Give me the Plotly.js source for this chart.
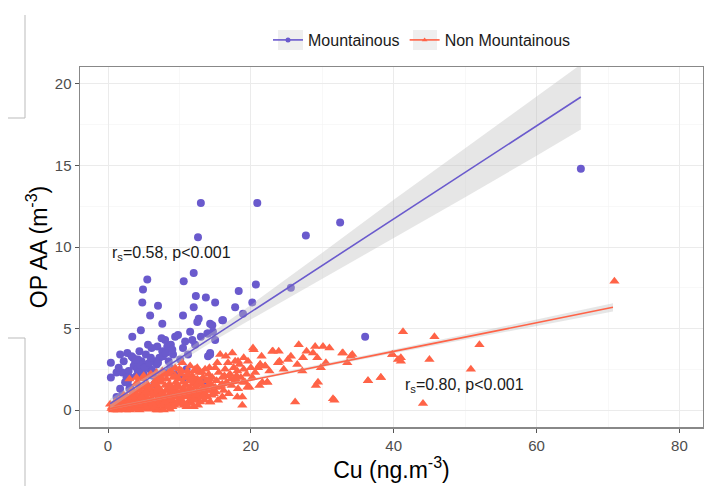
<!DOCTYPE html>
<html>
<head>
<meta charset="utf-8">
<script src="https://cdn.plot.ly/plotly-2.35.2.min.js"></script>
<style>html,body{margin:0;padding:0;background:#fff;}#chart{width:704px;height:486px;}</style>
</head>
<body>
<div id="chart"></div>
<script>
// ---- Data ----
const seriesNames = ["Mountainous", "Non Mountainous"];

const mountCu = [13.0,20.9,12.6,5.5,4.9,10.6,12.0,20.7,18.3,4.8,7.0,12.3,13.7,12.0,15.0,17.8,20.2,10.5,5.9,12.7,
  27.7,32.5,18.9,25.6,16.1,14.3,12.5,66.2,36.0,7.6,4.6,3.4,5.6,6.9,8.0,9.4,10.8,11.8,14.0,14.6,16.0,11.5,
  2.7,0.4,0.4,2.0,2.8,3.5,4.2,5.2,5.9,6.6,7.6,8.3,9.1,10.1,10.5,8.7,1.7,2.4,3.1,4.8,4.2,10.6,14.3,14.0,12.9,4.9,
  13.9,14.7,14.3,15.0,13.6,1.7,1.2,3.1,
  1.5,2.2,2.9,3.3,3.8,4.4,4.7,5.0,5.3,5.7,6.1,6.3,6.8,7.2,7.9,8.5,9.3,6.5,5.5,3.0,2.0,1.2,4.0,7.5,8.8,9.8,11.2,12.2,13.0,11.0,
  3.6,4.1,4.5,5.1,5.8,6.2,6.0,7.0,7.7,4.3,3.9,2.6,8.1,9.0];
const mountOP = [12.7,12.7,10.6,8.0,7.4,7.9,8.4,7.7,7.3,6.6,6.4,7.0,6.9,6.3,6.6,6.3,6.6,5.8,5.8,5.6,
  10.7,11.5,5.9,7.5,5.5,5.3,5.4,14.8,4.5,5.3,4.9,4.5,4.0,3.9,4.3,4.5,4.2,4.3,4.7,5.2,5.5,4.8,
  3.5,2.9,2.0,2.3,1.8,3.2,3.1,2.8,2.5,3.0,3.6,3.9,3.4,3.1,3.8,2.6,1.3,1.7,2.0,2.1,2.6,2.0,3.5,3.3,1.8,0.7,
  4.7,4.8,3.4,4.3,1.8,3.4,2.3,1.4,
  2.6,3.0,2.4,3.3,2.9,3.6,3.0,2.2,3.4,2.6,3.8,2.1,2.8,3.2,2.3,3.0,2.2,1.6,1.2,1.3,0.9,0.8,2.1,4.4,4.0,4.6,3.4,4.0,4.5,2.5,
  2.7,2.5,2.8,2.6,2.9,2.4,3.2,2.9,3.3,2.3,3.1,2.0,3.5,3.7];

const nonCu = [0.3,0.5,0.6,0.8,0.9,1.0,1.1,1.2,1.3,1.5,1.6,1.7,1.8,1.9,2.0,2.1,2.2,2.3,2.5,2.5,2.6,2.7,2.8,2.9,3.0,
  3.1,3.2,3.3,3.4,3.5,3.6,3.7,3.8,3.9,4.0,4.1,4.2,4.3,4.4,4.5,4.6,4.7,4.8,4.9,5.0,5.1,5.2,5.3,5.4,5.5,5.6,5.7,5.8,5.9,6.0,
  6.1,6.2,6.3,6.4,6.5,6.6,6.7,6.8,6.9,7.0,7.0,7.1,7.2,7.3,7.4,7.5,7.6,7.7,7.8,7.9,8.0,8.1,8.2,8.3,8.4,8.5,8.6,8.7,8.8,8.9,9.0,9.1,9.2,9.3,9.4,9.5,9.6,9.7,9.8,9.9,
  10.0,10.1,10.2,10.4,10.4,10.5,10.6,10.7,10.8,10.9,11.0,11.1,11.2,11.3,11.4,11.5,11.6,11.7,11.8,11.9,12.0,12.1,12.2,12.3,12.4,12.5,12.6,12.8,12.9,13.0,13.1,13.3,13.4,13.6,13.7,13.8,14.0,14.1,14.3,14.4,14.6,14.8,15.0,15.0,
  15.2,15.4,15.5,15.7,15.8,16.0,16.0,16.2,16.4,16.6,16.8,16.9,17.1,17.3,17.4,17.6,17.8,17.9,18.1,18.2,18.4,18.6,18.8,19.0,19.2,19.4,19.6,19.8,20.0,20.2,20.4,20.6,21.0,21.3,21.6,22.0,22.3,22.6,23.0,
  20.3,26.7,29.0,30.1,23.1,23.9,28.7,32.8,34.2,27.3,29.3,25.2,23.8,30.5,18.2,21.3,22.0,27.2,39.8,40.6,29.4,29.1,36.4,38.2,22.3,21.2,26.2,31.5,18.8,18.1,16.0,14.3,19.5,18.9,
  41.3,45.7,52.0,32.9,34.0,39.8,41.0,41.0,45.0,50.8,36.4,38.2,31.7,44.1,70.9,
  0.7,1.4,2.4,3.6,4.5,5.6,6.4,7.3,8.1,9.0,10.3,11.6,12.7,13.9,3.0,4.0,5.0,6.0,7.0,8.0,9.0,10.0,11.0,12.0,
  0.7,1.0,1.4,1.8,2.2,2.6,3.0,3.3,3.6,3.9,4.2,4.5,4.8,5.1,5.4,5.7,6.0,6.3,6.6,6.9,7.2,7.5,7.8,8.1,8.4,8.7,9.0,9.3,9.6,9.9,
  10.2,10.5,10.8,11.1,11.4,11.7,12.0,12.3,12.6,13.0,13.5,14.0,14.5,2.0,2.4,2.9,3.4,3.8,4.3,4.7,5.2,5.6,6.1,6.5,7.0,7.4,8.0,8.5,9.0,9.5,10.0,11.0,12.0,13.2,
  6.0,7.6,8.4,5.0,6.8,10.0,11.2,12.5,13.2,14.2,15.3,16.5,19.0,21.5,24.0,25.6,26.5,27.8,31.0,33.5,24.6,29.8,
  1.5,2.7,3.5,4.4,5.3,6.2,7.1,7.9,8.8,9.7,10.6,11.5,12.4,13.3,14.2,15.1,16.0,16.9,17.8,14.7,15.6,16.3,17.2,18.0,13.6,12.9,11.8,10.9,
  4.0,4.9,5.8,6.7,7.6,8.5,9.4,10.3,11.2,12.1];
const nonOP = [0.35,0.1,0.2,0.05,0.3,0.15,0.4,0.0,0.25,0.1,0.35,0.5,0.2,0.05,0.3,0.6,0.15,0.4,0.0,0.25,0.5,0.8,0.1,0.35,0.6,
  0.2,0.9,0.45,0.05,0.7,0.3,1.1,0.5,0.15,0.8,1.7,0.4,1.3,0.0,0.6,1.0,0.25,0.9,1.4,0.5,0.1,0.75,1.2,0.35,1.6,0.6,0.05,1.0,0.4,1.3,
  0.7,0.2,1.5,0.9,0.45,1.8,1.1,0.0,0.6,1.4,0.1,2.0,0.85,0.3,1.2,1.7,0.55,1.0,2.2,0.2,1.5,0.75,1.9,0.4,1.2,0.9,1.6,0.05,2.4,1.0,0.6,2.0,1.3,0.3,2.6,1.7,0.8,1.1,0.45,1.9,
  1.4,0.6,2.2,2.9,1.0,1.7,0.3,1.25,2.0,0.8,1.5,2.4,1.1,0.5,1.8,2.7,1.3,0.9,2.1,1.6,0.2,1.0,2.5,1.4,0.7,1.9,1.2,2.3,0.5,1.6,1.0,2.0,1.4,2.5,0.9,1.8,1.2,2.2,0.5,1.6,2.0,1.0,1.4,2.6,
  1.8,0.6,2.3,3.4,1.5,0.8,2.0,1.2,2.5,1.7,2.9,1.0,2.2,1.5,3.5,2.6,3.0,1.9,2.4,1.3,2.8,2.0,0.8,2.5,1.7,2.2,3.0,1.4,2.6,2.0,3.7,2.3,2.6,2.8,1.7,2.7,1.7,2.4,3.6,
  3.8,4.0,3.9,3.9,3.6,3.6,3.5,3.5,3.4,3.2,3.2,3.1,2.9,2.9,3.0,2.8,2.7,2.4,3.4,3.1,1.7,1.5,1.8,2.0,1.7,1.5,0.5,0.7,0.3,0.8,0.8,0.5,1.4,1.7,
  4.8,4.5,4.0,3.5,3.3,3.4,3.2,3.0,3.1,2.5,1.8,2.0,0.6,0.4,7.9,
  0.1,0.0,0.1,0.2,0.1,0.3,0.2,0.4,0.3,0.5,0.6,0.7,0.9,0.8,1.9,2.0,2.1,0.1,0.0,0.2,0.3,0.4,0.2,0.6,
  0.0,0.5,0.2,0.6,0.9,0.1,0.0,1.2,0.55,0.9,0.1,1.2,0.4,1.5,0.8,1.3,0.2,0.6,1.0,1.9,0.5,1.0,0.0,1.2,0.6,1.4,0.2,0.9,1.5,0.6,
  1.1,0.5,1.5,0.9,1.3,0.4,1.7,0.9,0.3,1.2,0.6,1.5,0.9,0.15,0.35,0.55,0.3,0.05,0.6,0.8,0.2,0.45,1.0,0.15,0.75,0.3,0.5,0.2,1.2,0.4,0.8,0.3,0.6,0.8,
  2.2,2.4,2.2,1.9,2.3,2.5,2.0,2.6,2.3,2.6,2.9,3.3,3.2,3.3,3.0,3.3,2.8,3.6,3.8,2.9,2.5,2.6,
  0.6,0.3,0.8,0.3,1.1,0.4,1.3,0.9,0.7,1.4,1.0,1.8,1.5,1.2,1.9,1.1,1.6,2.1,1.8,1.2,1.4,2.1,1.9,2.1,1.0,1.8,2.0,0.9,
  1.6,2.0,2.1,1.6,1.9,2.3,2.1,2.4,2.2,2.4];

// fitted lines and confidence bands
const mountFitCu = [0.3, 7, 15, 20, 30, 40, 50, 60, 66.2];
const mountFitOP = [0.39, 2.3, 4.6, 6.0, 8.85, 11.7, 14.55, 17.4, 19.2];
const mountLow   = [0.1, 2.1, 4.3, 5.55, 8.05, 10.5, 13.05, 15.6, 17.2];
const mountHigh  = [0.7, 2.5, 4.9, 6.45, 9.65, 12.9, 16.05, 19.2, 21.2];

const nonFitCu = [0.3, 20, 40, 60, 70.7];
const nonFitOP = [0.1, 1.85, 3.6, 5.35, 6.3];
const nonLow   = [0.02, 1.78, 3.48, 5.15, 6.05];
const nonHigh  = [0.18, 1.92, 3.72, 5.55, 6.55];

const xTicks = [0, 20, 40, 60, 80];
const yTicks = [0, 5, 10, 15, 20];

const purple = '#6A5ACD', tomato = '#FF6347';

// ---- Traces ----
const traces = [
  {x: mountCu, y: mountOP, type: 'scatter', mode: 'markers', showlegend: false,
   marker: {color: purple, size: 8, symbol: 'circle'}},
  {x: nonCu, y: nonOP, type: 'scatter', mode: 'markers', showlegend: false,
   marker: {color: tomato, size: 9, symbol: 'triangle-up'}},
  {x: mountFitCu, y: mountLow, type: 'scatter', mode: 'lines', line: {width: 0}, showlegend: false, hoverinfo: 'skip'},
  {x: mountFitCu, y: mountHigh, type: 'scatter', mode: 'lines', line: {width: 0}, fill: 'tonexty',
   fillcolor: 'rgba(190,190,190,0.38)', showlegend: false, hoverinfo: 'skip'},
  {x: nonFitCu, y: nonLow, type: 'scatter', mode: 'lines', line: {width: 0}, showlegend: false, hoverinfo: 'skip'},
  {x: nonFitCu, y: nonHigh, type: 'scatter', mode: 'lines', line: {width: 0}, fill: 'tonexty',
   fillcolor: 'rgba(190,190,190,0.38)', showlegend: false, hoverinfo: 'skip'},
  {x: mountFitCu, y: mountFitOP, type: 'scatter', mode: 'lines', line: {color: purple, width: 1.6}, showlegend: false},
  {x: nonFitCu, y: nonFitOP, type: 'scatter', mode: 'lines', line: {color: tomato, width: 1.6}, showlegend: false},
  // legend entries
  {x: [null], y: [null], type: 'scatter', mode: 'lines+markers', name: seriesNames[0],
   line: {color: purple, width: 1.6}, marker: {color: purple, size: 5, symbol: 'circle'}},
  {x: [null], y: [null], type: 'scatter', mode: 'lines+markers', name: seriesNames[1],
   line: {color: tomato, width: 1.6}, marker: {color: tomato, size: 5, symbol: 'triangle-up'}}
];

// helper: pixel -> paper coords for decorative edge lines / legend key backgrounds
const L = 80, T = 67, W = 623, H = 360;
const px = v => (v - L) / W, py = v => (T + H - v) / H;
const edge = {color: '#BBBBBB', width: 1};
const keyBox = (x0, x1) => ({type: 'rect', xref: 'paper', yref: 'paper', x0: px(x0), x1: px(x1),
  y0: py(50), y1: py(30), fillcolor: '#EFEFEF', line: {width: 0}, layer: 'below'});

const layout = {
  width: 704, height: 486,
  margin: {l: L, r: 704 - L - W, t: T, b: 486 - T - H, pad: 0},
  paper_bgcolor: '#fff', plot_bgcolor: '#fff',
  font: {family: 'Liberation Sans, Arial, sans-serif', color: '#4D4D4D'},
  showlegend: true,
  legend: {orientation: 'h', traceorder: 'normal', x: px(268), xanchor: 'left', y: py(40), yanchor: 'middle',
    font: {size: 16, color: '#1a1a1a'}, itemwidth: 30, bgcolor: 'rgba(0,0,0,0)'},
  xaxis: {range: [-3.92, 83.3], tickvals: xTicks, ticktext: xTicks.map(String),
    showgrid: true, gridcolor: '#EBEBEB', gridwidth: 1,
    minor: {dtick: 10, tick0: 0, showgrid: true, gridcolor: '#F3F3F3', gridwidth: 0.6},
    zeroline: false, showline: true, mirror: true, linecolor: '#888', linewidth: 1.5,
    ticks: 'outside', ticklen: 4, tickcolor: '#555', tickfont: {size: 15, color: '#4D4D4D'},
    title: {text: 'Cu (ng.m<sup>-3</sup>)', font: {size: 23, color: '#000'}, standoff: 4}},
  yaxis: {range: [-1.04, 21.04], tickvals: yTicks, ticktext: yTicks.map(String),
    showgrid: true, gridcolor: '#EBEBEB', gridwidth: 1,
    minor: {dtick: 2.5, tick0: 0, showgrid: true, gridcolor: '#F3F3F3', gridwidth: 0.6},
    zeroline: false, showline: true, mirror: true, linecolor: '#888', linewidth: 1.5,
    ticks: 'outside', ticklen: 4, tickcolor: '#555', tickfont: {size: 15, color: '#4D4D4D'},
    title: {text: 'OP AA (m<sup>-3</sup>)', font: {size: 23, color: '#000'}, standoff: 1}},
  annotations: [
    {x: 0.28, y: 9.6, xref: 'x', yref: 'y', xanchor: 'left', yanchor: 'middle', showarrow: false,
     text: 'r<sub>s</sub>=0.58, p&lt;0.001', font: {size: 16, color: '#1a1a1a'}},
    {x: 41.3, y: 1.5, xref: 'x', yref: 'y', xanchor: 'left', yanchor: 'middle', showarrow: false,
     text: 'r<sub>s</sub>=0.80, p&lt;0.001', font: {size: 16, color: '#1a1a1a'}}
  ],
  shapes: [
    keyBox(278, 303), keyBox(413, 437),
    {type: 'line', xref: 'paper', yref: 'paper', x0: px(25), x1: px(25), y0: py(15), y1: py(118), line: edge},
    {type: 'line', xref: 'paper', yref: 'paper', x0: px(8), x1: px(25), y0: py(118), y1: py(118), line: edge},
    {type: 'line', xref: 'paper', yref: 'paper', x0: px(8), x1: px(25), y0: py(338), y1: py(338), line: edge},
    {type: 'line', xref: 'paper', yref: 'paper', x0: px(25), x1: px(25), y0: py(338), y1: py(486), line: edge}
  ]
};

Plotly.newPlot('chart', traces, layout, {displayModeBar: false, staticPlot: true});
</script>
</body>
</html>
